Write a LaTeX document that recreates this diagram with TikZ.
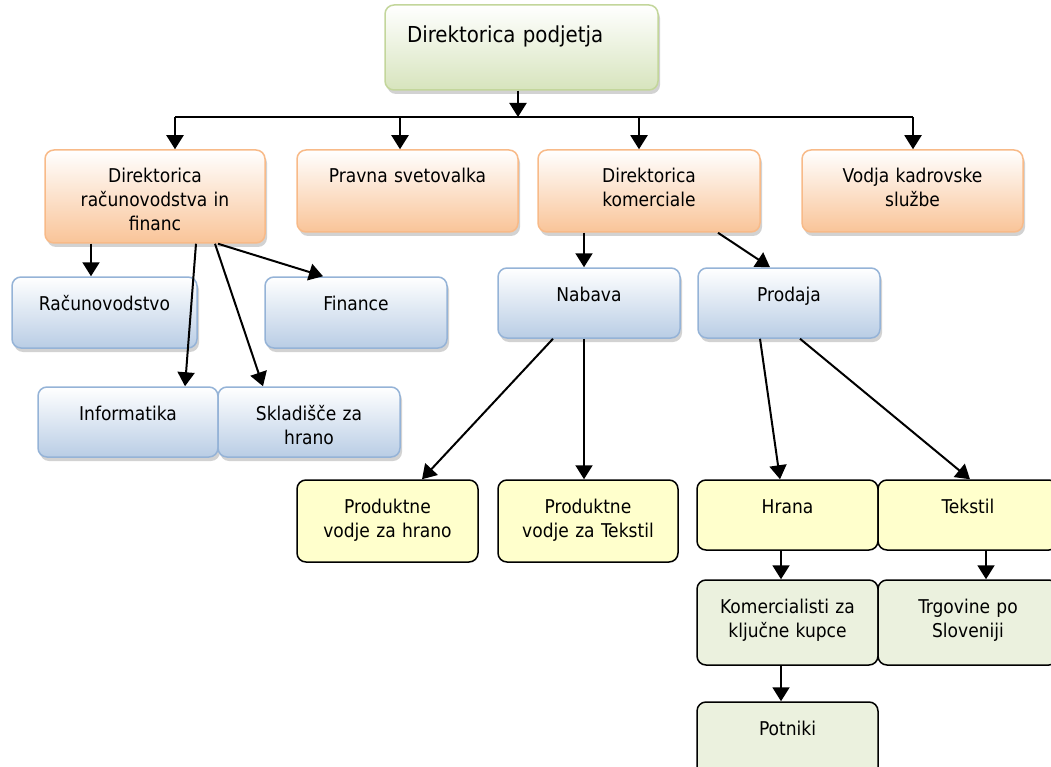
\documentclass[tikz,border=0pt]{standalone}
\usepackage{fontspec}
\setmainfont{DejaVu Sans Condensed}
\usetikzlibrary{arrows.meta,shadows}

\definecolor{orline}{RGB}{248,186,136}
\definecolor{orfill}{RGB}{249,196,152}
\definecolor{blline}{RGB}{149,179,215}
\definecolor{blfill}{RGB}{185,205,229}
\definecolor{grline}{RGB}{195,214,155}
\definecolor{grfill}{RGB}{215,228,189}
\definecolor{yefill}{RGB}{255,255,204}
\definecolor{ltfill}{RGB}{235,241,222}

\tikzset{
  box/.style={rounded corners=9pt, line width=1.5pt, inner xsep=6pt, inner ysep=0pt,
    align=center, text height=33pt, font=\fontsize{19}{24}\selectfont},
  shade/.style={drop shadow={shadow xshift=2pt, shadow yshift=-4pt, fill=black!35}},
  orbox/.style={box, shade, draw=orline, top color=white, bottom color=orfill},
  blbox/.style={box, shade, draw=blline, top color=white, bottom color=blfill},
  grbox/.style={box, shade, draw=grline, top color=white, bottom color=grfill},
  yebox/.style={box, draw=black, fill=yefill},
  ltbox/.style={box, draw=black, fill=ltfill},
  arr/.style={-{Triangle[width=17pt,length=14pt]}, line width=2pt}
}

\begin{document}
\begin{tikzpicture}[x=1pt,y=-1pt]
    \clip (0,0) rectangle (1051,767);
    % top
    \node [grbox, align=left, inner xsep=22pt, text width=229pt, text height=38pt, text depth=47pt,
      font=\fontsize{22}{27}\selectfont] (dir) at (521.5,47.5) {Direktorica podjetja};
    % directors
    \node [orbox, text width=208pt, text depth=60pt] (rf) at (155,196.5) {Direktorica\\računovodstva in\\financ};
    \node [orbox, text width=209pt, text depth=49pt] (prav) at (407.5,191) {Pravna svetovalka};
    \node [orbox, text width=210pt, text depth=49pt] (kme) at (649,191) {Direktorica\\komerciale};
    \node [orbox, text width=209pt, text depth=49pt] (kad) at (912.5,191) {Vodja kadrovske\\službe};
    % departments
    \node [blbox, text width=173pt, text depth=38pt] (rac) at (104.5,312.5) {Računovodstvo};
    \node [blbox, text width=170pt, text depth=38pt] (fin) at (356,312.5) {Finance};
    \node [blbox, text width=168pt, text depth=37pt] (inf) at (128,422) {Informatika};
    \node [blbox, text width=170pt, text depth=37pt] (skl) at (309,422) {Skladišče za\\hrano};
    \node [blbox, text width=170pt, text depth=37pt] (nab) at (589,303) {Nabava};
    \node [blbox, text width=170pt, text depth=37pt] (pro) at (789,303) {Prodaja};
    % product lines
    \node [yebox, text width=169pt, text depth=49pt] (pvh) at (387.5,521) {Produktne\\vodje za hrano};
    \node [yebox, text width=168pt, text depth=49pt] (pvt) at (588,521) {Produktne\\vodje za Tekstil};
    \node [yebox, text width=169pt, text depth=37pt] (hra) at (787.5,515) {Hrana};
    \node [yebox, text width=168pt, text depth=37pt] (tek) at (968,515) {Tekstil};
    \node [ltbox, text width=169pt, text depth=52pt] (kom) at (787.5,622.5) {Komercialisti za\\ključne kupce};
    \node [ltbox, text width=168pt, text depth=52pt] (trg) at (968,622.5) {Trgovine po\\Sloveniji};
    \node [ltbox, text width=169pt, text depth=43pt] (pot) at (787.5,740) {Potniki};

    % bus under the top box
    \coordinate (j0) at (518,117);
    \coordinate (j1) at (175,117);
    \coordinate (j2) at (400,117);
    \coordinate (j3) at (639,117);
    \coordinate (j4) at (913,117);
    \draw [arr] (dir.south -| j0) -- (j0);
    \draw [line width=2pt] (j1) -- (j4);
    \draw [arr] (j1) -- (j1 |- rf.north);
    \draw [arr] (j2) -- (j2 |- prav.north);
    \draw [arr] (j3) -- (j3 |- kme.north);
    \draw [arr] (j4) -- (j4 |- kad.north);

    \draw [arr] ([xshift=-13.5pt]rac.north |- rf.south) -- ([xshift=-13.5pt]rac.north);
    \draw [arr] ([xshift=41pt]rf.south) -- ([xshift=57pt]inf.north);
    \draw [arr] ([xshift=60pt]rf.south) -- ([xshift=-46pt]skl.north);
    \draw [arr] ([xshift=63pt]rf.south) -- ([xshift=-33pt]fin.north);

    \draw [arr] ([xshift=-5pt]nab.north |- kme.south) -- ([xshift=-5pt]nab.north);
    \draw [arr] ([xshift=69pt]kme.south) -- ([xshift=-19pt]pro.north);

    \draw [arr] ([xshift=-36pt]nab.south) -- ([xshift=34.5pt]pvh.north);
    \draw [arr] ([xshift=-4pt]pvt.north |- nab.south) -- ([xshift=-4pt]pvt.north);
    \draw [arr] ([xshift=-29pt]pro.south) -- ([xshift=-7.5pt]hra.north);
    \draw [arr] ([xshift=11pt]pro.south) -- ([xshift=2pt]tek.north);

    \draw [arr] ([xshift=-6.5pt]hra.south) -- ([xshift=-6.5pt]kom.north);
    \draw [arr] ([xshift=18pt]tek.south) -- ([xshift=18pt]trg.north);
    \draw [arr] ([xshift=-6.5pt]kom.south) -- ([xshift=-6.5pt]pot.north);
\end{tikzpicture}
\end{document}
